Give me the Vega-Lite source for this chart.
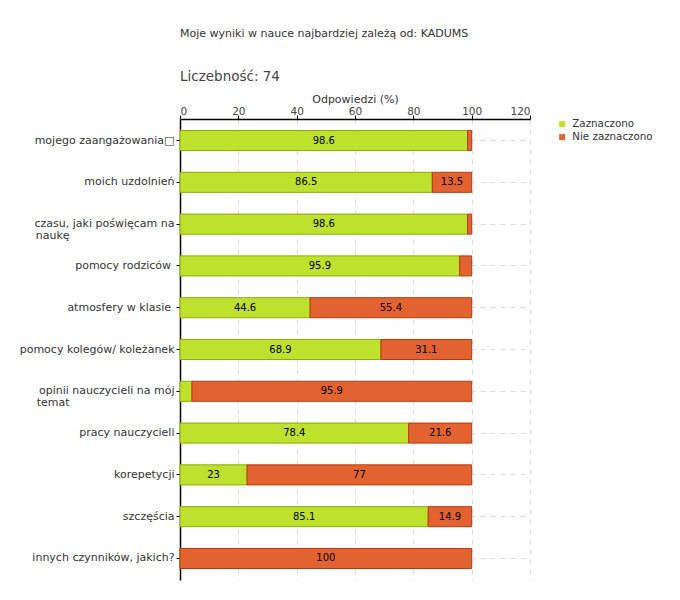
{
  "$schema": "https://vega.github.io/schema/vega-lite/v6.json",
  "autosize": {"type": "none"},
  "width": 350,
  "height": 461,
  "padding": {"left": 180, "top": 119, "right": 150, "bottom": 20},
  "background": "white",
  "title": {
    "text": "Moje wyniki w nauce najbardziej zależą od: KADUMS",
    "subtitle": "Liczebność: 74",
    "anchor": "start",
    "frame": "group",
    "font": "DejaVu Sans",
    "fontSize": 11,
    "fontWeight": "normal",
    "color": "#333333",
    "subtitleFont": "DejaVu Sans",
    "subtitleFontSize": 13.5,
    "subtitleColor": "#444444",
    "subtitlePadding": 31,
    "offset": 10
  },
  "config": {
    "view": {"stroke": null},
    "font": "DejaVu Sans"
  },
  "data": {
    "values": [
      {"q": "mojego zaangażowania□", "cat": "Zaznaczono", "o": 1, "v": 98.6},
      {"q": "mojego zaangażowania□", "cat": "Nie zaznaczono", "o": 2, "v": 1.4},
      {"q": "moich uzdolnień", "cat": "Zaznaczono", "o": 1, "v": 86.5},
      {"q": "moich uzdolnień", "cat": "Nie zaznaczono", "o": 2, "v": 13.5},
      {"q": "czasu, jaki poświęcam na naukę", "cat": "Zaznaczono", "o": 1, "v": 98.6},
      {"q": "czasu, jaki poświęcam na naukę", "cat": "Nie zaznaczono", "o": 2, "v": 1.4},
      {"q": "pomocy rodziców", "cat": "Zaznaczono", "o": 1, "v": 95.9},
      {"q": "pomocy rodziców", "cat": "Nie zaznaczono", "o": 2, "v": 4.1},
      {"q": "atmosfery w klasie", "cat": "Zaznaczono", "o": 1, "v": 44.6},
      {"q": "atmosfery w klasie", "cat": "Nie zaznaczono", "o": 2, "v": 55.4},
      {"q": "pomocy kolegów/ koleżanek", "cat": "Zaznaczono", "o": 1, "v": 68.9},
      {"q": "pomocy kolegów/ koleżanek", "cat": "Nie zaznaczono", "o": 2, "v": 31.1},
      {"q": "opinii nauczycieli na mój temat", "cat": "Zaznaczono", "o": 1, "v": 4.1},
      {"q": "opinii nauczycieli na mój temat", "cat": "Nie zaznaczono", "o": 2, "v": 95.9},
      {"q": "pracy nauczycieli", "cat": "Zaznaczono", "o": 1, "v": 78.4},
      {"q": "pracy nauczycieli", "cat": "Nie zaznaczono", "o": 2, "v": 21.6},
      {"q": "korepetycji", "cat": "Zaznaczono", "o": 1, "v": 23},
      {"q": "korepetycji", "cat": "Nie zaznaczono", "o": 2, "v": 77},
      {"q": "szczęścia", "cat": "Zaznaczono", "o": 1, "v": 85.1},
      {"q": "szczęścia", "cat": "Nie zaznaczono", "o": 2, "v": 14.9},
      {"q": "innych czynników, jakich?", "cat": "Zaznaczono", "o": 1, "v": 0},
      {"q": "innych czynników, jakich?", "cat": "Nie zaznaczono", "o": 2, "v": 100}
    ]
  },
  "transform": [
    {"stack": "v", "groupby": ["q"], "sort": [{"field": "o"}], "as": ["v0", "v1"]},
    {"calculate": "(datum.v0 + datum.v1) / 2", "as": "mid"}
  ],
  "encoding": {
    "y": {
      "field": "q",
      "type": "nominal",
      "sort": null,
      "title": null,
      "scale": {"paddingInner": 0.52, "paddingOuter": 0.275},
      "axis": {
        "domainColor": "#000000",
        "domainWidth": 1.5,
        "tickColor": "#000000",
        "tickSize": 4,
        "labelFont": "DejaVu Sans",
        "labelFontSize": 11,
        "labelColor": "#333333",
        "labelPadding": 2,
        "labelLimit": 200,
        "labelLineHeight": 12,
        "grid": true,
        "gridDash": [5, 5],
        "gridColor": "#dddddd",
        "labelExpr": "datum.value == 'czasu, jaki poświęcam na naukę' ? ['czasu, jaki poświęcam na', 'naukę\u00a0\u00a0\u00a0\u00a0\u00a0\u00a0\u00a0\u00a0\u00a0\u00a0\u00a0\u00a0\u00a0\u00a0\u00a0\u00a0\u00a0\u00a0\u00a0\u00a0\u00a0\u00a0\u00a0\u00a0\u00a0\u00a0\u00a0\u00a0\u00a0\u00a0\u200b'] : datum.value == 'opinii nauczycieli na mój temat' ? ['opinii nauczycieli na mój', 'temat\u00a0\u00a0\u00a0\u00a0\u00a0\u00a0\u00a0\u00a0\u00a0\u00a0\u00a0\u00a0\u00a0\u00a0\u00a0\u00a0\u00a0\u00a0\u00a0\u00a0\u00a0\u00a0\u00a0\u00a0\u00a0\u00a0\u00a0\u00a0\u00a0\u00a0\u200b'] : (datum.value == 'pomocy rodziców' || datum.value == 'atmosfery w klasie') ? datum.label + '\u00a0\u200b' : datum.label"
      }
    }
  },
  "layer": [
    {
      "mark": {"type": "bar", "strokeWidth": 1},
      "encoding": {
        "x": {
          "field": "v0",
          "type": "quantitative",
          "scale": {"domain": [0, 120], "nice": false},
          "title": "Odpowiedzi (%)",
          "axis": {
            "orient": "top",
            "values": [0, 10, 20, 30, 40, 50, 60, 70, 80, 90, 100, 110, 120],
            "labelExpr": "datum.value % 20 == 0 ? datum.label : ''",
            "domainColor": "#000000",
            "domainWidth": 1.5,
            "tickColor": {"condition": {"test": "datum.value % 20 != 0", "value": "#ff0000"}, "value": "#000000"},
            "tickSize": 4,
            "labelFont": "DejaVu Sans",
            "labelFontSize": 10.5,
            "labelColor": "#444444",
            "labelPadding": -1,
            "titleFont": "DejaVu Sans",
            "titleFontSize": 11,
            "titleFontWeight": "normal",
            "titleColor": "#333333",
            "titlePadding": 2,
            "grid": true,
            "gridDash": [5, 5],
            "gridColor": "#dddddd",
            "gridOpacity": {"condition": {"test": "datum.value % 20 != 0 || datum.value == 0", "value": 0}, "value": 1}
          }
        },
        "x2": {"field": "v1"},
        "color": {
          "field": "cat",
          "type": "nominal",
          "sort": ["Zaznaczono", "Nie zaznaczono"],
          "scale": {"domain": ["Zaznaczono", "Nie zaznaczono"], "range": ["#bde12d", "#e2632f"]},
          "legend": {
            "title": null,
            "orient": "right",
            "offset": 27,
            "symbolType": "square",
            "symbolSize": 36,
            "symbolStrokeWidth": 0,
            "labelFont": "DejaVu Sans",
            "labelFontSize": 10.3,
            "labelColor": "#333333",
            "labelOffset": 5,
            "rowPadding": 2,
            "padding": 0
          }
        },
        "stroke": {
          "field": "cat",
          "type": "nominal",
          "scale": {"domain": ["Zaznaczono", "Nie zaznaczono"], "range": ["#8aad00", "#b83a0c"]},
          "legend": null
        }
      }
    },
    {
      "transform": [{"filter": "datum.v > 5"}],
      "mark": {"type": "text", "font": "DejaVu Sans", "fontSize": 10, "color": "#000000"},
      "encoding": {
        "x": {"field": "mid", "type": "quantitative"},
        "text": {"field": "v", "type": "quantitative"}
      }
    }
  ]
}
